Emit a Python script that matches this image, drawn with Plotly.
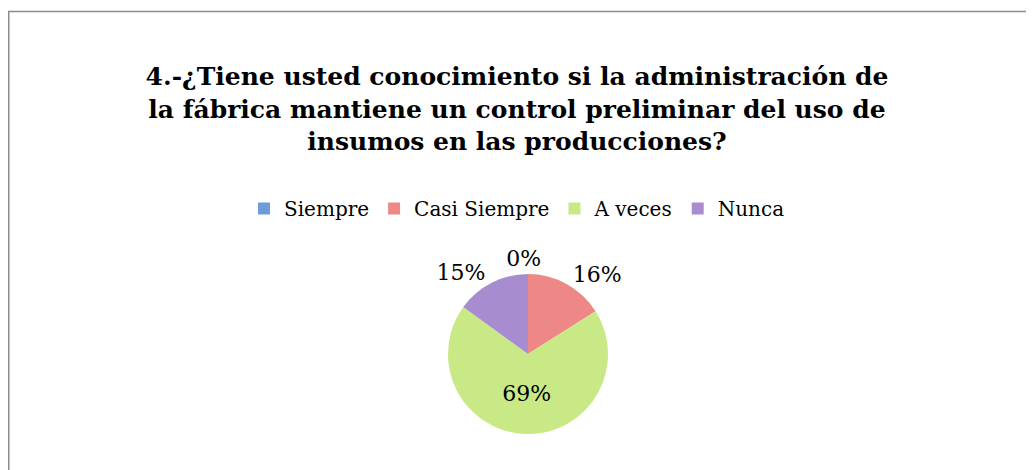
import plotly.graph_objects as go

categories = ["Siempre", "Casi Siempre", "A veces", "Nunca"]
values = [0, 16, 69, 15]
colors = ["#6E9CDB", "#EE8886", "#C8E985", "#A78DCF"]
title_lines = [
    "4.-¿Tiene usted conocimiento si la administración de",
    "la fábrica mantiene un control preliminar del uso de",
    "insumos en las producciones?",
]

W, H = 1034, 470
cx, cy, r = 520, 346, 80


def domain(x_center, y_center, radius):
    return dict(x=[(x_center - radius) / W, (x_center + radius) / W],
                y=[(H - y_center - radius) / H, (H - y_center + radius) / H])


label_font = dict(family="DejaVu Serif", size=22, color="#000000")

# main pie: labels for the non-zero slices
main_tpl = ["" if v == 0 else "%{percent:.0%}" for v in values]
# transparent overlay pie: only the zero slice label (no collision leader line)
zero_tpl = ["%{percent:.0%}" if v == 0 else "" for v in values]

fig = go.Figure()
fig.add_trace(go.Pie(
    labels=categories,
    values=values,
    sort=False,
    direction="clockwise",
    rotation=0,
    marker=dict(colors=colors, line=dict(width=0)),
    texttemplate=main_tpl,
    textposition=["outside", "outside", "inside", "outside"],
    textfont=label_font,
    insidetextorientation="horizontal",
    hoverinfo="label+percent",
    showlegend=True,
    domain=domain(cx, cy, r),
))
fig.add_trace(go.Pie(
    labels=categories,
    values=values,
    sort=False,
    direction="clockwise",
    rotation=0,
    marker=dict(colors=["rgba(0,0,0,0)"] * len(values), line=dict(width=0)),
    texttemplate=zero_tpl,
    textposition="outside",
    textfont=label_font,
    hoverinfo="skip",
    showlegend=False,
    domain=domain(cx - 28, cy - 3, r),
))

fig.update_layout(
    width=W, height=H,
    margin=dict(l=0, r=0, t=0, b=0),
    paper_bgcolor="white",
    plot_bgcolor="white",
    title=dict(
        text="<br>".join(title_lines),
        x=509 / W, xanchor="center",
        y=1 - 77 / H, yanchor="top",
        font=dict(family="DejaVu Serif", size=25, color="#000000", weight="bold"),
    ),
    legend=dict(
        orientation="h",
        x=509 / W, xanchor="center",
        y=1 - 181 / H, yanchor="top",
        font=dict(family="DejaVu Serif", size=20, color="#000000"),
        traceorder="normal",
    ),
    shapes=[dict(
        type="rect", xref="paper", yref="paper",
        x0=0.75 / W, x1=1.05, y0=-0.05, y1=1 - 3.5 / H,
        line=dict(color="#8C8C8C", width=1.5),
        fillcolor="rgba(0,0,0,0)", layer="above",
    )],
)

fig.write_html("out.html")
